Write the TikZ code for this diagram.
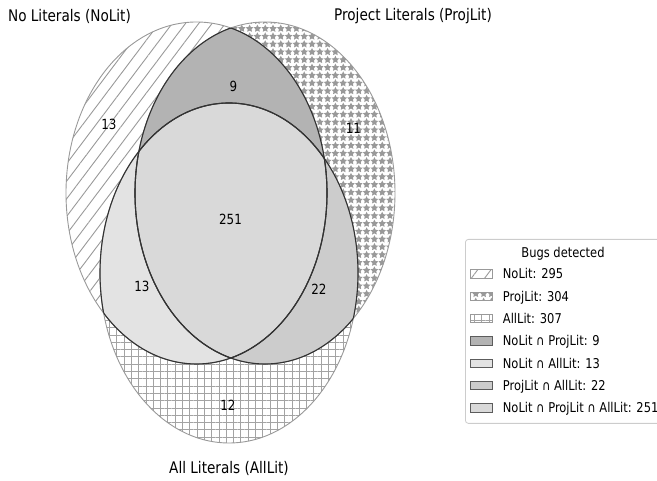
\documentclass[tikz,border=0pt]{standalone}
\usepackage{fontspec}
\setmainfont{DejaVu Sans}[FakeStretch=0.85]
\usetikzlibrary{patterns.meta}
\definecolor{edgegray}{HTML}{999999}
\definecolor{darkedge}{HTML}{333333}
\definecolor{hatchgray}{HTML}{999999}
\definecolor{legendgray}{HTML}{CCCCCC}
\definecolor{fAB}{HTML}{B3B3B3}
\definecolor{fAC}{HTML}{E3E3E3}
\definecolor{fBC}{HTML}{CCCCCC}
\definecolor{fABC}{HTML}{D9D9D9}
\tikzset{
  nolitpat/.style={pattern={Lines[angle=53,distance=10.6pt,line width=0.9pt]},pattern color=hatchgray},
  projpat/.style={pattern={Stars[distance=7.8pt,points=5,radius=4pt]},pattern color=hatchgray},
  allpat/.style={pattern={Hatch[angle=0,distance=7.3pt,line width=0.9pt]},pattern color=hatchgray!90},
  ellN/.style={insert path={(cN) ellipse [x radius=130.5pt, y radius=171pt]}},
  ellP/.style={insert path={(cP) ellipse [x radius=130pt, y radius=171pt]}},
  ellA/.style={insert path={(cA) ellipse [x radius=129pt, y radius=170pt]}},
  grayline/.style={draw=edgegray,line width=0.9pt},
  darkline/.style={draw=darkedge,line width=1.1pt},
  setlabel/.style={font=\fontsize{16}{19}\selectfont,anchor=base,inner sep=0pt},
  countlabel/.style={font=\fontsize{14}{16}\selectfont,inner sep=0pt},
  legtext/.style={font=\fontsize{13.5}{16}\selectfont,anchor=base west,inner sep=0pt},
  legpatch/.style={minimum width=22pt,minimum height=8.3pt,inner sep=0pt,line width=0.8pt},
  hatchpatch/.style={legpatch,draw=edgegray},
  fillpatch/.style={legpatch,draw=darkedge!80},
}
\begin{document}
\begin{tikzpicture}[x=1pt,y=1pt]
\useasboundingbox (0,0) rectangle (657,481);
\coordinate (cN) at (196.5,288);
\coordinate (cP) at (265,288);
\coordinate (cA) at (229,208);
% single-set patterns
\path[nolitpat,ellN];
\path[projpat,ellP];
\path[allpat,ellA];
% pairwise intersections
\begin{scope}\clip[ellN]; \fill[fAB,ellP]; \end{scope}
\begin{scope}\clip[ellN]; \fill[fAC,ellA]; \end{scope}
\begin{scope}\clip[ellP]; \fill[fBC,ellA]; \end{scope}
\begin{scope}\clip[ellN]; \clip[ellP]; \fill[fABC,ellA]; \end{scope}
% outlines
\path[grayline,ellN];
\path[grayline,ellP];
\path[grayline,ellA];
\begin{scope}\clip[ellP]; \path[darkline,ellN]; \path[darkline,ellA]; \end{scope}
\begin{scope}\clip[ellA]; \path[darkline,ellN]; \path[darkline,ellP]; \end{scope}
\begin{scope}\clip[ellN]; \path[darkline,ellP]; \path[darkline,ellA]; \end{scope}
% set labels
\node[setlabel] (lN) at (69.5,459.3) {No Literals (NoLit)};
\node[setlabel] (lP) at (413,460) {Project Literals (ProjLit)};
\node[setlabel] (lA) at (229,7) {All Literals (AllLit)};
% counts
\node[countlabel] (n9) at (233.3,395) {9};
\node[countlabel] (n13a) at (109,357) {13};
\node[countlabel] (n11) at (353.5,353) {11};
\node[countlabel] (n251) at (230.5,261.7) {251};
\node[countlabel] (n13b) at (142,194.5) {13};
\node[countlabel] (n22) at (319,191.5) {22};
\node[countlabel] (n12) at (228,75.3) {12};
% legend
\node[draw=legendgray,line width=0.8pt,rounded corners=3pt,minimum width=197pt,minimum height=184pt,inner sep=0pt,anchor=north west] (legbox) at (465,242) {};
\node[font=\fontsize{13.5}{16}\selectfont,anchor=base,inner sep=0pt] (legtitle) at (563,223.3) {Bugs detected};
\node[hatchpatch,nolitpat] (p1) at (481,207.0) {};
\node[hatchpatch,projpat] (p2) at (481,184.7) {};
\node[hatchpatch,allpat] (p3) at (481,162.3) {};
\node[fillpatch,fill=fAB] (p4) at (481,140.0) {};
\node[fillpatch,fill=fAC] (p5) at (481,117.7) {};
\node[fillpatch,fill=fBC] (p6) at (481,95.3) {};
\node[fillpatch,fill=fABC] (p7) at (481,73.0) {};
\node[legtext] (t1) at (502.7,202.1) {NoLit: 295};
\node[legtext] (t2) at (502.7,179.8) {ProjLit: 304};
\node[legtext] (t3) at (502.7,157.4) {AllLit: 307};
\node[legtext] (t4) at (502.7,135.1) {NoLit ∩ ProjLit: 9};
\node[legtext] (t5) at (502.7,112.8) {NoLit ∩ AllLit: 13};
\node[legtext] (t6) at (502.7,90.4) {ProjLit ∩ AllLit: 22};
\node[legtext] (t7) at (502.7,68.1) {NoLit ∩ ProjLit ∩ AllLit: 251};
\end{tikzpicture}
\end{document}
